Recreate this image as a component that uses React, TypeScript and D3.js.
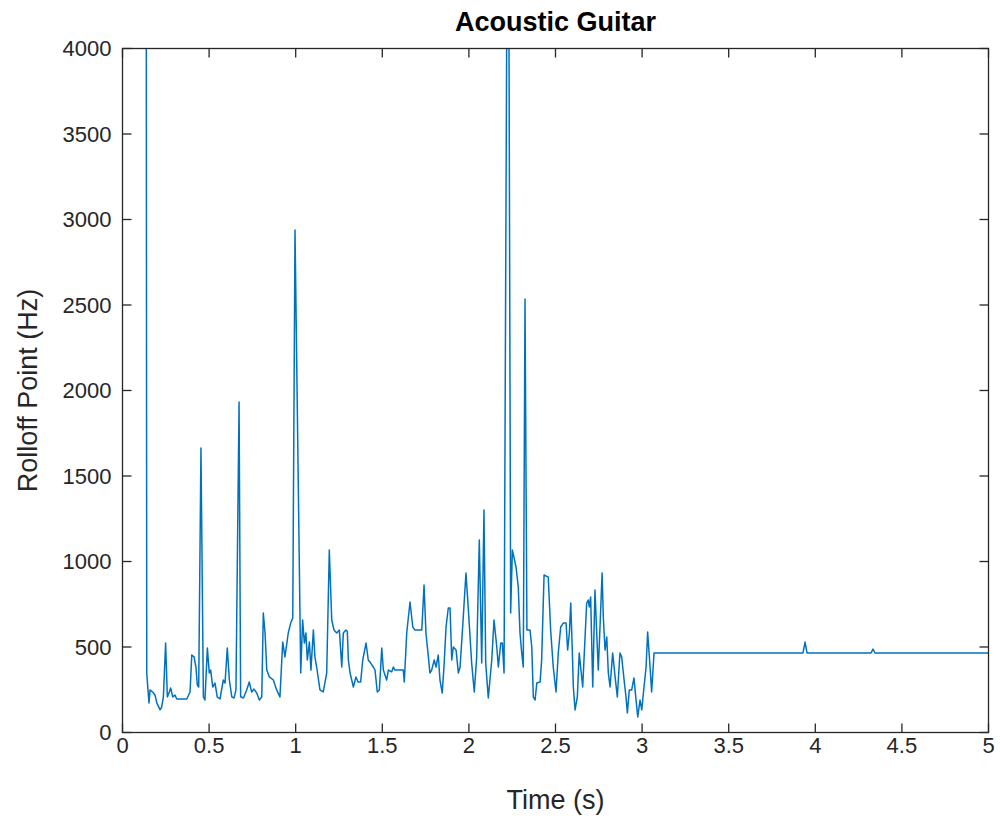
import React from "react";
import * as d3 from "d3";

const timeS = [
  0.136, 0.140, 0.147, 0.153, 0.159, 0.174, 0.188, 0.198, 0.217, 0.226, 0.236, 0.249, 0.259, 0.270, 0.278, 0.290,
  0.303, 0.313, 0.371, 0.390, 0.400, 0.413, 0.424, 0.432, 0.440, 0.453, 0.467, 0.476, 0.490, 0.501, 0.509, 0.521,
  0.534, 0.547, 0.563, 0.582, 0.592, 0.605, 0.617, 0.631, 0.644, 0.655, 0.673, 0.682, 0.698, 0.717, 0.732, 0.746,
  0.759, 0.775, 0.790, 0.804, 0.813, 0.823, 0.833, 0.848, 0.871, 0.890, 0.909, 0.925, 0.938, 0.957, 0.971, 0.983,
  0.996, 1.029, 1.040, 1.050, 1.059, 1.067, 1.079, 1.088, 1.102, 1.111, 1.121, 1.140, 1.159, 1.179, 1.194, 1.208,
  1.221, 1.237, 1.252, 1.266, 1.275, 1.290, 1.298, 1.304, 1.314, 1.333, 1.348, 1.360, 1.375, 1.387, 1.406, 1.419,
  1.433, 1.448, 1.458, 1.471, 1.483, 1.497, 1.506, 1.525, 1.535, 1.554, 1.564, 1.573, 1.596, 1.621, 1.627, 1.641,
  1.660, 1.676, 1.689, 1.728, 1.741, 1.752, 1.766, 1.775, 1.785, 1.800, 1.810, 1.823, 1.833, 1.846, 1.856, 1.868,
  1.881, 1.891, 1.901, 1.910, 1.926, 1.939, 1.949, 1.964, 1.983, 1.997, 2.016, 2.031, 2.045, 2.060, 2.074, 2.087,
  2.097, 2.112, 2.132, 2.145, 2.161, 2.170, 2.184, 2.193, 2.203, 2.226, 2.241, 2.251, 2.260, 2.272, 2.285, 2.295,
  2.305, 2.314, 2.324, 2.335, 2.353, 2.363, 2.372, 2.382, 2.392, 2.411, 2.420, 2.434, 2.458, 2.472, 2.487, 2.503,
  2.516, 2.530, 2.545, 2.561, 2.570, 2.580, 2.588, 2.597, 2.603, 2.613, 2.626, 2.637, 2.657, 2.680, 2.689, 2.695,
  2.703, 2.715, 2.728, 2.738, 2.747, 2.757, 2.769, 2.776, 2.786, 2.796, 2.805, 2.815, 2.830, 2.844, 2.857, 2.872,
  2.882, 2.896, 2.907, 2.915, 2.926, 2.940, 2.953, 2.965, 2.975, 2.988, 2.998, 3.011, 3.023, 3.032, 3.046, 3.055,
  3.069, 3.929, 3.941, 3.952, 4.322, 4.333, 4.345, 5.0,
];

const rolloffHz = [
  6000, 348, 249, 173, 249, 237, 219, 173, 132, 149, 208, 523, 208, 237, 260, 208,
  219, 196, 196, 237, 453, 442, 383, 278, 266, 1664, 208, 190, 494, 348, 365, 266,
  289, 208, 196, 307, 289, 494, 307, 208, 202, 249, 1933, 209, 202, 249, 295, 237,
  254, 231, 190, 208, 699, 582, 365, 325, 307, 249, 208, 529, 442, 582, 640, 670,
  2938, 348, 658, 523, 582, 424, 529, 365, 599, 442, 383, 249, 237, 348, 1067, 658,
  599, 582, 599, 383, 582, 599, 590, 424, 348, 266, 325, 295, 295, 424, 523, 424,
  406, 383, 365, 237, 249, 494, 365, 307, 365, 354, 383, 365, 365, 365, 295, 582,
  763, 617, 599, 599, 863, 582, 442, 348, 365, 424, 383, 453, 307, 231, 383, 617,
  728, 728, 424, 500, 482, 348, 383, 617, 933, 716, 406, 237, 442, 1126, 406, 1301,
  406, 202, 424, 658, 500, 383, 523, 523, 348, 6000, 699, 1067, 1026, 968, 851, 582,
  465, 383, 2535, 599, 599, 500, 208, 190, 289, 295, 424, 921, 909, 599, 383, 237,
  465, 617, 640, 640, 482, 582, 757, 482, 266, 132, 208, 465, 266, 757, 775, 734,
  792, 266, 833, 582, 365, 617, 933, 675, 482, 558, 348, 266, 465, 325, 208, 465,
  442, 307, 208, 114, 249, 249, 319, 190, 91, 190, 132, 266, 383, 588, 383, 237,
  465, 465, 529, 465, 465, 488, 465, 465,
];

const xTicks = [0, 0.5, 1, 1.5, 2, 2.5, 3, 3.5, 4, 4.5, 5];
const yTicks = [0, 500, 1000, 1500, 2000, 2500, 3000, 3500, 4000];

const titleText = "Acoustic Guitar";
const xLabel = "Time (s)";
const yLabel = "Rolloff Point (Hz)";

export default function App() {
  const W = 1000, H = 821;
  const left = 122.5, right = 988.5, top = 48.5, bottom = 732.5;
  const x = d3.scaleLinear().domain([0, 5]).range([left, right]);
  const y = d3.scaleLinear().domain([0, 4000]).range([bottom, top]);
  const pts = timeS.map((t, i) => [t, rolloffHz[i]] as [number, number]);
  const line = d3.line<[number, number]>().x((d) => x(d[0])).y((d) => y(d[1]));
  const axisColor = "#262626";
  const font = "'Liberation Sans', Arial, Helvetica, sans-serif";
  const tl = 9;
  return (
    <svg width={W} height={H} style={{ position: "absolute", left: 0, top: 0, background: "#fff" }} fontFamily={font}>
      <rect x={0} y={0} width={W} height={H} fill="#fff" />
      <defs>
        <clipPath id="plotclip">
          <rect x={left} y={top} width={right - left} height={bottom - top} />
        </clipPath>
      </defs>
      <path d={line(pts) || ""} fill="none" stroke="#0072BD" strokeWidth={1.5} strokeLinejoin="round" clipPath="url(#plotclip)" />
      <rect x={left} y={top} width={right - left} height={bottom - top} fill="none" stroke={axisColor} strokeWidth={1.3} />
      {xTicks.map((t) => (
        <g key={"x" + t}>
          <line x1={x(t)} x2={x(t)} y1={bottom} y2={bottom - tl} stroke={axisColor} strokeWidth={1.3} />
          <line x1={x(t)} x2={x(t)} y1={top} y2={top + tl} stroke={axisColor} strokeWidth={1.3} />
          <text x={x(t)} y={bottom + 13} textAnchor="middle" dominantBaseline="central" fontSize={22} fill={axisColor}>
            {String(t)}
          </text>
        </g>
      ))}
      {yTicks.map((v) => (
        <g key={"y" + v}>
          <line x1={left} x2={left + tl} y1={y(v)} y2={y(v)} stroke={axisColor} strokeWidth={1.3} />
          <line x1={right} x2={right - tl} y1={y(v)} y2={y(v)} stroke={axisColor} strokeWidth={1.3} />
          <text x={left - 11} y={y(v)} textAnchor="end" dominantBaseline="central" fontSize={22} fill={axisColor}>
            {String(v)}
          </text>
        </g>
      ))}
      <text x={(left + right) / 2} y={22} textAnchor="middle" dominantBaseline="central" fontSize={27} fontWeight="bold" fill="#000">
        {titleText}
      </text>
      <text x={(left + right) / 2} y={800} textAnchor="middle" dominantBaseline="central" fontSize={27} fill={axisColor}>
        {xLabel}
      </text>
      <text
        transform={`translate(28, ${(top + bottom) / 2}) rotate(-90)`}
        textAnchor="middle"
        dominantBaseline="central"
        fontSize={27}
        fill={axisColor}
      >
        {yLabel}
      </text>
    </svg>
  );
}
